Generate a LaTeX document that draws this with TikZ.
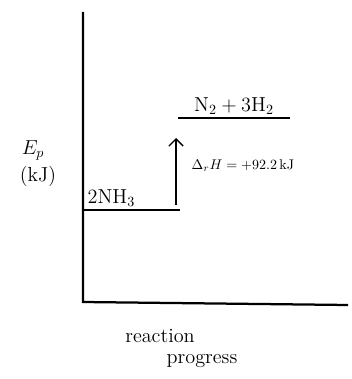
\documentclass[tikz,border=0pt]{standalone}
\usepackage{amsmath}
\usepackage{tikz}
\usetikzlibrary{arrows.meta, positioning}

\begin{document}
\begin{tikzpicture}[
    x=0.025cm, y=-0.025cm,
    axis/.style={line width=1.6pt},
    level/.style={line width=1.6pt},
    label/.style={font=\Large, inner sep=1pt},
    arrow/.style={-{Straight Barb[length=5pt]}, line width=1pt}
]
\useasboundingbox (0,0) rectangle (351,379);

% Axes
\coordinate (origin) at (83,302);
\coordinate (ytop) at (83,12);
\coordinate (xend) at (348,305);
\draw [axis] (ytop) -- (origin) -- (xend);

% Levels
\coordinate (lowL) at (83,210);
\coordinate (lowR) at (180,210);
\coordinate (highL) at (178,118);
\coordinate (highR) at (290,118);
\draw [level] (lowL) -- (lowR);
\draw [level] (highL) -- (highR);

% Nodes
\node [label, anchor=south west] (reactants) at (86,208) {$2\mathrm{NH_3}$};
\node [label, anchor=south] (products) at (234,116) {$\mathrm{N_2 + 3H_2}$};
\node [label, font=\normalsize, anchor=west] (dh) at (190,166) {$\Delta_r H = +92.2\,$kJ};
\node [label] (ep) at (33,150) {$E_p$};
\node [label] (unit) at (38,176) {(kJ)};
\node [label] (rxn) at (160,336) {reaction};
\node [label] (prog) at (202,361) {progress};

% Arrow
\coordinate (dhfrom) at (176,205);
\coordinate (dhto) at (176,138);
\draw [arrow] (dhfrom) -- (dhto);

\end{tikzpicture}
\end{document}
